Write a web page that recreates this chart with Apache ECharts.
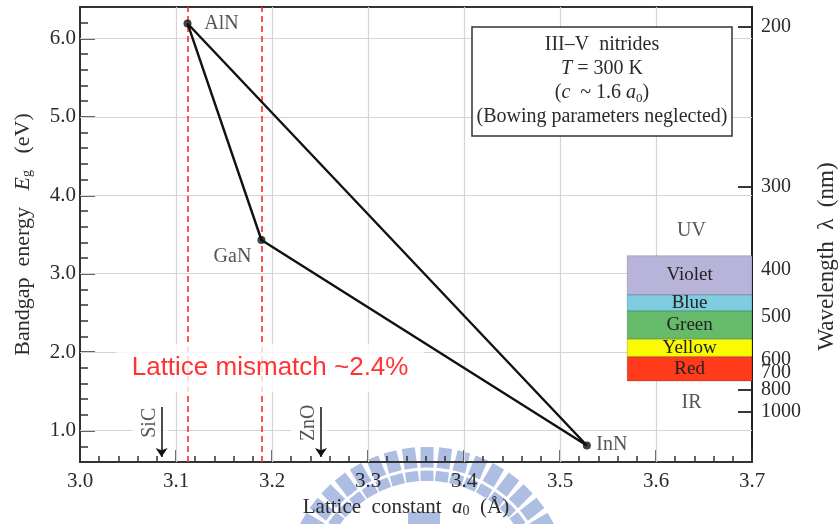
<!DOCTYPE html>
<html><head><meta charset="utf-8">
<script src="https://cdn.jsdelivr.net/npm/echarts@6/dist/echarts.min.js"></script>
<style>html,body{margin:0;padding:0;background:#fff}#c{width:840px;height:524px}</style>
</head><body><div id="c"></div>
<script>
// ---------- data ----------
const compounds = ['AlN', 'GaN', 'InN'];
const latticeA = [3.112, 3.189, 3.528];
const bandgapE = [6.19, 3.43, 0.81];

const xRange = [3.0, 3.7];
const yRange = [0.6, 6.4];
const xMajorStep = 0.1;
const xMinorStep = 0.02;
const yMinorStep = 0.2;
const yMajorTicks = [1, 2, 3, 4, 5, 6];
const xGridValues = [3.1, 3.2, 3.3, 3.4, 3.5, 3.6];
const yGridValues = [1, 2, 3, 4, 5, 6];

const wavelengthLabels = [200, 300, 400, 500, 600, 700, 800, 1000];
const wavelengthEnergy = [6.149, 4.109, 3.056, 2.452, 1.909, 1.738, 1.518, 1.241];

const bandNames = ['Violet', 'Blue', 'Green', 'Yellow', 'Red'];
const bandTopE = [3.230, 2.729, 2.525, 2.164, 1.942];
const bandBottomE = [2.729, 2.525, 2.164, 1.942, 1.633];
const bandLeftA = 3.57;

const mismatchA = [3.112, 3.189];
const substrates = ['SiC', 'ZnO'];
const substrateA = [3.085, 3.251];
const arrowTopE = 1.30;
const arrowBottomE = 0.665;
const substrateLabelE = 1.10;

const regionLabels = ['UV', 'IR'];
const regionA = [3.637, 3.637];
const regionE = [3.545, 1.352];
const mismatchText = 'Lattice mismatch ~2.4%';
const mismatchLabelPos = [3.198, 1.798];

// ---------- styles ----------
const SERIF = '"Liberation Serif","Times New Roman",serif';
const SANS = '"Liberation Sans",Arial,sans-serif';
const INK = '#2b2b2b';
const bandColors = ['#b8b4d9', '#7fcde0', '#66bb6b', '#fafa00', '#ff3b1c'];
const pointLabelOffsets = [[34, 0], [-29, 17], [25, -1]];

const chart = echarts.init(document.getElementById('c'), null, {renderer: 'canvas', width: 840, height: 524});

// watermark (decorative)
const wmColor = '#93a8da';
const wm = [];
(function () {
  const cx = 427, cy = 590;
  for (let d = -60; d <= 60.01; d += 7.5) {
    const t = d * Math.PI / 180, r = 126;
    wm.push({type: 'rect', z: -1, silent: true, x: cx + r * Math.sin(t), y: cy - r * Math.cos(t), rotation: -t,
      shape: {x: -6.5, y: -17, width: 13, height: 34}, style: {fill: wmColor, opacity: 0.75}});
  }
  wm.push({type: 'arc', z: -1, silent: true, shape: {cx: cx, cy: cy, r: 121, startAngle: -Math.PI / 2 - 1.2, endAngle: -Math.PI / 2 + 1.2},
    style: {stroke: '#fff', lineWidth: 3, fill: null}});
  wm.push({type: 'rect', z: -1, silent: true, shape: {x: 408, y: 512, width: 32, height: 14}, style: {fill: wmColor, opacity: 0.75}});
})();

function serifRich(size) {
  return {
    n: {fontFamily: SERIF, fontSize: size, color: INK},
    i: {fontFamily: SERIF, fontSize: size, fontStyle: 'italic', color: INK},
    s: {fontFamily: SERIF, fontSize: Math.round(size * 0.65), color: INK, verticalAlign: 'bottom', padding: [6, 0, 0, 0]}
  };
}

const gridData = [];
xGridValues.forEach(a => gridData.push({coords: [[a, yRange[0]], [a, yRange[1]]]}));
yGridValues.forEach(e => gridData.push({coords: [[xRange[0], e], [xRange[1], e]]}));

const triangle = [0, 1, 2, 0].map(i => [latticeA[i], bandgapE[i]]);

const annotationData = [];
regionLabels.forEach((t, i) => annotationData.push({
  value: [regionA[i], regionE[i]], name: t,
  label: {fontFamily: SERIF, fontSize: 20, color: INK}
}));
annotationData.push({
  value: mismatchLabelPos, name: mismatchText,
  label: {fontFamily: SANS, fontSize: 26, color: '#ff0000', backgroundColor: '#fff', padding: [11, 15]}
});
substrates.forEach((t, i) => annotationData.push({
  value: [substrateA[i], substrateLabelE], name: t,
  label: {fontFamily: SERIF, fontSize: 20, color: INK, rotate: 90, offset: [0, -12],
    backgroundColor: '#fff', padding: [8, 2]}
}));

function nearestWave(v) {
  let best = 0;
  for (let i = 1; i < wavelengthEnergy.length; i++) {
    if (Math.abs(wavelengthEnergy[i] - v) < Math.abs(wavelengthEnergy[best] - v)) best = i;
  }
  return String(wavelengthLabels[best]);
}

const option = {
  animation: false,
  backgroundColor: '#fff',
  grid: {left: 80, right: 88, top: 7, bottom: 62, show: true, borderColor: '#333', borderWidth: 2,
    backgroundColor: 'transparent', outerBoundsMode: 'none'},
  xAxis: [
    {type: 'value', min: xRange[0], max: xRange[1], interval: xMinorStep, position: 'bottom',
      axisLine: {show: true, lineStyle: {color: '#333', width: 2}},
      axisTick: {show: true, inside: true, length: 6, lineStyle: {color: '#333', width: 1.5}},
      axisLabel: {show: false}, splitLine: {show: false}},
    {type: 'value', min: xRange[0], max: xRange[1], interval: xMajorStep, position: 'bottom',
      axisLine: {show: false},
      axisTick: {show: true, inside: true, length: 12, lineStyle: {color: '#333', width: 1.5}},
      axisLabel: {formatter: v => v.toFixed(1), margin: 9, fontFamily: SERIF, fontSize: 21, color: INK},
      splitLine: {show: false},
      name: '{n|Lattice  constant}  {i|a}{s|0}  {n|(Å)}', nameLocation: 'middle', nameGap: 35,
      nameTextStyle: {fontFamily: SERIF, fontSize: 21, color: INK, padding: [0, 20, 0, 0], rich: serifRich(21)}}
  ],
  yAxis: [
    {type: 'value', min: yRange[0], max: yRange[1], interval: yMinorStep, position: 'left',
      axisLine: {show: true, lineStyle: {color: '#333', width: 2}},
      axisTick: {show: true, inside: true, length: 8, lineStyle: {color: '#333', width: 1.5}},
      axisLabel: {show: false}, splitLine: {show: false}},
    {type: 'value', min: yRange[0], max: yRange[1], position: 'left',
      axisLine: {show: false},
      axisTick: {show: true, inside: true, length: 15, customValues: yMajorTicks, lineStyle: {color: '#333', width: 1.5}},
      axisLabel: {customValues: yMajorTicks, formatter: v => v.toFixed(1), margin: 4, fontFamily: SERIF, fontSize: 21, color: INK},
      splitLine: {show: false},
      name: '{n|Bandgap  energy}   {i|E}{s|g}   {n|(eV)}', nameLocation: 'middle', nameGap: 46, nameRotate: 90,
      nameTextStyle: {fontFamily: SERIF, fontSize: 22, color: INK, rich: serifRich(22)}},
    {type: 'value', min: yRange[0], max: yRange[1], position: 'right',
      axisLine: {show: true, lineStyle: {color: '#222', width: 2}},
      axisTick: {show: true, inside: true, length: 14, customValues: wavelengthEnergy, lineStyle: {color: '#222', width: 1.8}},
      axisLabel: {customValues: wavelengthEnergy, formatter: nearestWave, margin: 9, fontFamily: SERIF, fontSize: 20, color: INK},
      splitLine: {show: false},
      name: 'Wavelength  λ  (nm)', nameLocation: 'middle', nameGap: 63, nameRotate: 90,
      nameTextStyle: {fontFamily: SERIF, fontSize: 23, color: INK, padding: [0, 44, 0, 0]}}
  ],
  series: [
    {type: 'lines', coordinateSystem: 'cartesian2d', xAxisIndex: 0, yAxisIndex: 0, z: 1, silent: true,
      lineStyle: {color: '#d5d5d5', width: 1.2, opacity: 1}, data: gridData},
    {type: 'lines', coordinateSystem: 'cartesian2d', xAxisIndex: 0, yAxisIndex: 0, z: 2, silent: true,
      lineStyle: {color: '#ff2a2a', width: 1.6, type: [6, 4], opacity: 1},
      data: mismatchA.map(a => ({coords: [[a, yRange[0]], [a, yRange[1]]]}))},
    {type: 'custom', xAxisIndex: 0, yAxisIndex: 0, z: 3, silent: true,
      data: bandNames.map((n, i) => [bandLeftA, bandTopE[i], bandBottomE[i], i]),
      encode: {x: 0, y: 1},
      renderItem: (params, api) => {
        const i = api.value(3);
        const p0 = api.coord([api.value(0), api.value(1)]);
        const p1 = api.coord([xRange[1], api.value(2)]);
        return {type: 'group', children: [
          {type: 'rect', shape: {x: p0[0], y: p0[1], width: p1[0] - p0[0], height: p1[1] - p0[1]},
            style: {fill: bandColors[i], stroke: 'rgba(0,0,0,0.18)', lineWidth: 1}},
          {type: 'text', x: (p0[0] + p1[0]) / 2, y: (p0[1] + p1[1]) / 2,
            style: {text: bandNames[i], align: 'center', verticalAlign: 'middle', font: '19px ' + SERIF, fill: '#222'}}
        ]};
      }},
    {type: 'scatter', xAxisIndex: 0, yAxisIndex: 0, z: 4, silent: true, symbolSize: 0,
      data: annotationData,
      label: {show: true, position: 'inside', formatter: p => p.name}},
    {type: 'line', xAxisIndex: 0, yAxisIndex: 0, z: 5, silent: true, showSymbol: false,
      lineStyle: {color: '#111', width: 2.4}, data: triangle},
    {type: 'scatter', xAxisIndex: 0, yAxisIndex: 0, z: 6, silent: true, symbolSize: 8,
      itemStyle: {color: '#111'},
      data: compounds.map((c, i) => ({value: [latticeA[i], bandgapE[i]], name: c,
        label: {offset: pointLabelOffsets[i]}})),
      label: {show: true, position: 'inside', formatter: p => p.name, fontFamily: SERIF, fontSize: 20, color: INK}},
    {type: 'lines', coordinateSystem: 'cartesian2d', xAxisIndex: 0, yAxisIndex: 0, z: 6, silent: true,
      symbol: ['none', 'arrow'], symbolSize: 9,
      lineStyle: {color: '#111', width: 1.5, opacity: 1},
      data: substrateA.map(a => ({coords: [[a, arrowTopE], [a, arrowBottomE]]}))}
  ],
  graphic: wm.concat([
    {type: 'rect', z: 50, shape: {x: 472, y: 27, width: 260, height: 109},
      style: {fill: '#fff', stroke: '#333', lineWidth: 1.5}},
    {type: 'text', z: 51, x: 602, y: 33,
      style: {
        text: '{n|III–V  nitrides}\n{i|T}{n| = 300 K}\n{n|(}{i|c}{n|  ~ 1.6 }{i|a}{s|0}{n|)}\n{n|(Bowing parameters neglected)}',
        align: 'center', verticalAlign: 'top', lineHeight: 24,
        rich: {
          n: {font: '20px ' + SERIF, fill: INK, lineHeight: 24},
          i: {font: 'italic 20px ' + SERIF, fill: INK, lineHeight: 24},
          s: {font: '13px ' + SERIF, fill: INK, lineHeight: 24, verticalAlign: 'bottom', padding: [8, 0, 0, 0]}
        }
      }}
  ])
};
chart.setOption(option);
</script>
</body></html>
